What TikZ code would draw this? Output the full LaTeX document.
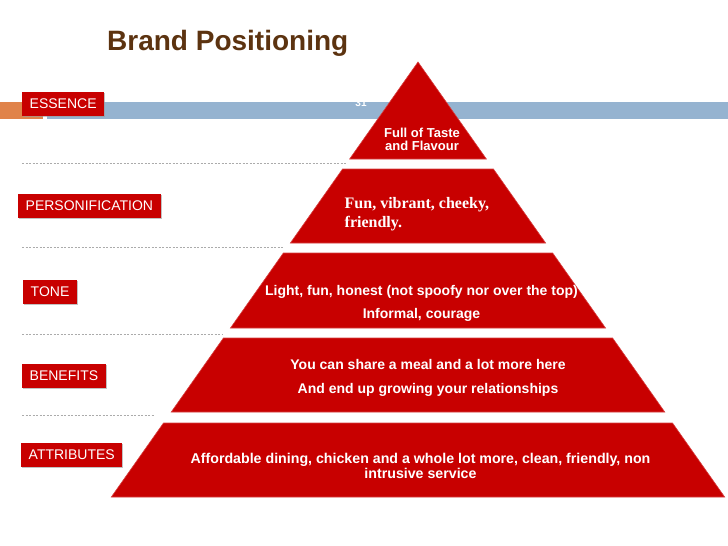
\documentclass[tikz,border=0pt]{standalone}
\usepackage{fontspec}
\setmainfont{Liberation Sans}
\newfontfamily\timesfont{Liberation Serif}
\usepackage{tikz}
\usetikzlibrary{positioning,shadows}
\definecolor{brandRed}{HTML}{C80000}
\definecolor{brandBrown}{HTML}{5C3310}
\definecolor{barBlue}{HTML}{95B3D0}
\definecolor{barOrange}{HTML}{E0834A}
\definecolor{dashGray}{HTML}{ABABAB}

\begin{document}
\begin{tikzpicture}[x=1pt,y=-1pt,
    tag/.style={fill=brandRed,text=white,inner xsep=7.5pt,inner ysep=0pt,
      minimum height=24pt,anchor=west,font=\fontsize{14}{14}\selectfont,
      drop shadow={shadow xshift=1.2pt,shadow yshift=-1.2pt,fill=black!40,opacity=.6}},
    layer/.style={fill=brandRed,draw=brandRed!75!white,line width=0.6pt},
    layertext/.style={text=white,align=center,inner sep=0pt,anchor=base},
    guide/.style={draw=dashGray,dash pattern=on 2pt off 1.5pt,line width=0.5pt}]
  \useasboundingbox (0,0) rectangle (728,546);

  % slide banner
  \fill[barOrange] (0,102) rectangle (43,119);
  \fill[barBlue] (47,102) rectangle (728,119);
  \node[text=white,font=\bfseries\fontsize{10}{10}\selectfont] (pagenum) at (361,103) {31};
  \node[anchor=base west,inner sep=0pt,text=brandBrown,
        font=\bfseries\fontsize{28}{28}\selectfont] (title) at (107,50) {Brand Positioning};

  % pyramid: apex (418,62), slope 0.705
  \path[layer] (418,62) -- ({418+0.705*97},159) -- ({418-0.705*97},159) -- cycle;
  \foreach \yt/\yb in {169/243,253/328,338/412,423/497}
    \path[layer] ({418-0.705*(\yt-62)},\yt) -- ({418+0.705*(\yt-62)},\yt)
      -- ({418+0.705*(\yb-62)},\yb) -- ({418-0.705*(\yb-62)},\yb) -- cycle;

  % dashed guides
  \foreach \y/\xe in {163/346,247/284,334/222,415/155}
    \draw[guide] (22,\y) -- (\xe,\y);

  % level tags
  \node[tag] (essence) at (22,103.5) {ESSENCE};
  \node[tag] (personification) at (18,205.5) {PERSONIFICATION};
  \node[tag] (tone) at (23,291.5) {TONE};
  \node[tag] (benefits) at (22,375.5) {BENEFITS};
  \node[tag] (attributes) at (21,455) {ATTRIBUTES};

  % level texts (base = last line)
  \node[layertext,font=\bfseries\fontsize{13}{12.5}\selectfont] (essenceTxt)
    at (422,150) {Full of Taste\\and Flavour};
  \node[layertext,align=left,anchor=base west,
        font=\timesfont\bfseries\fontsize{16}{19}\selectfont] (personTxt)
    at (344.5,227) {Fun, vibrant, cheeky,\\friendly.};
  \node[layertext,font=\bfseries\fontsize{14}{23}\selectfont] (toneTxt)
    at (421.5,318) {Light, fun, honest (not spoofy nor over the top)\\Informal, courage};
  \node[layertext,font=\bfseries\fontsize{14}{24}\selectfont] (benefitsTxt)
    at (428,393) {You can share a meal and a lot more here\\And end up growing your relationships};
  \node[layertext,font=\bfseries\fontsize{14.2}{15.5}\selectfont] (attributesTxt)
    at (420.5,478.5) {Affordable dining, chicken and a whole lot more, clean, friendly, non\\intrusive service};
\end{tikzpicture}
\end{document}
